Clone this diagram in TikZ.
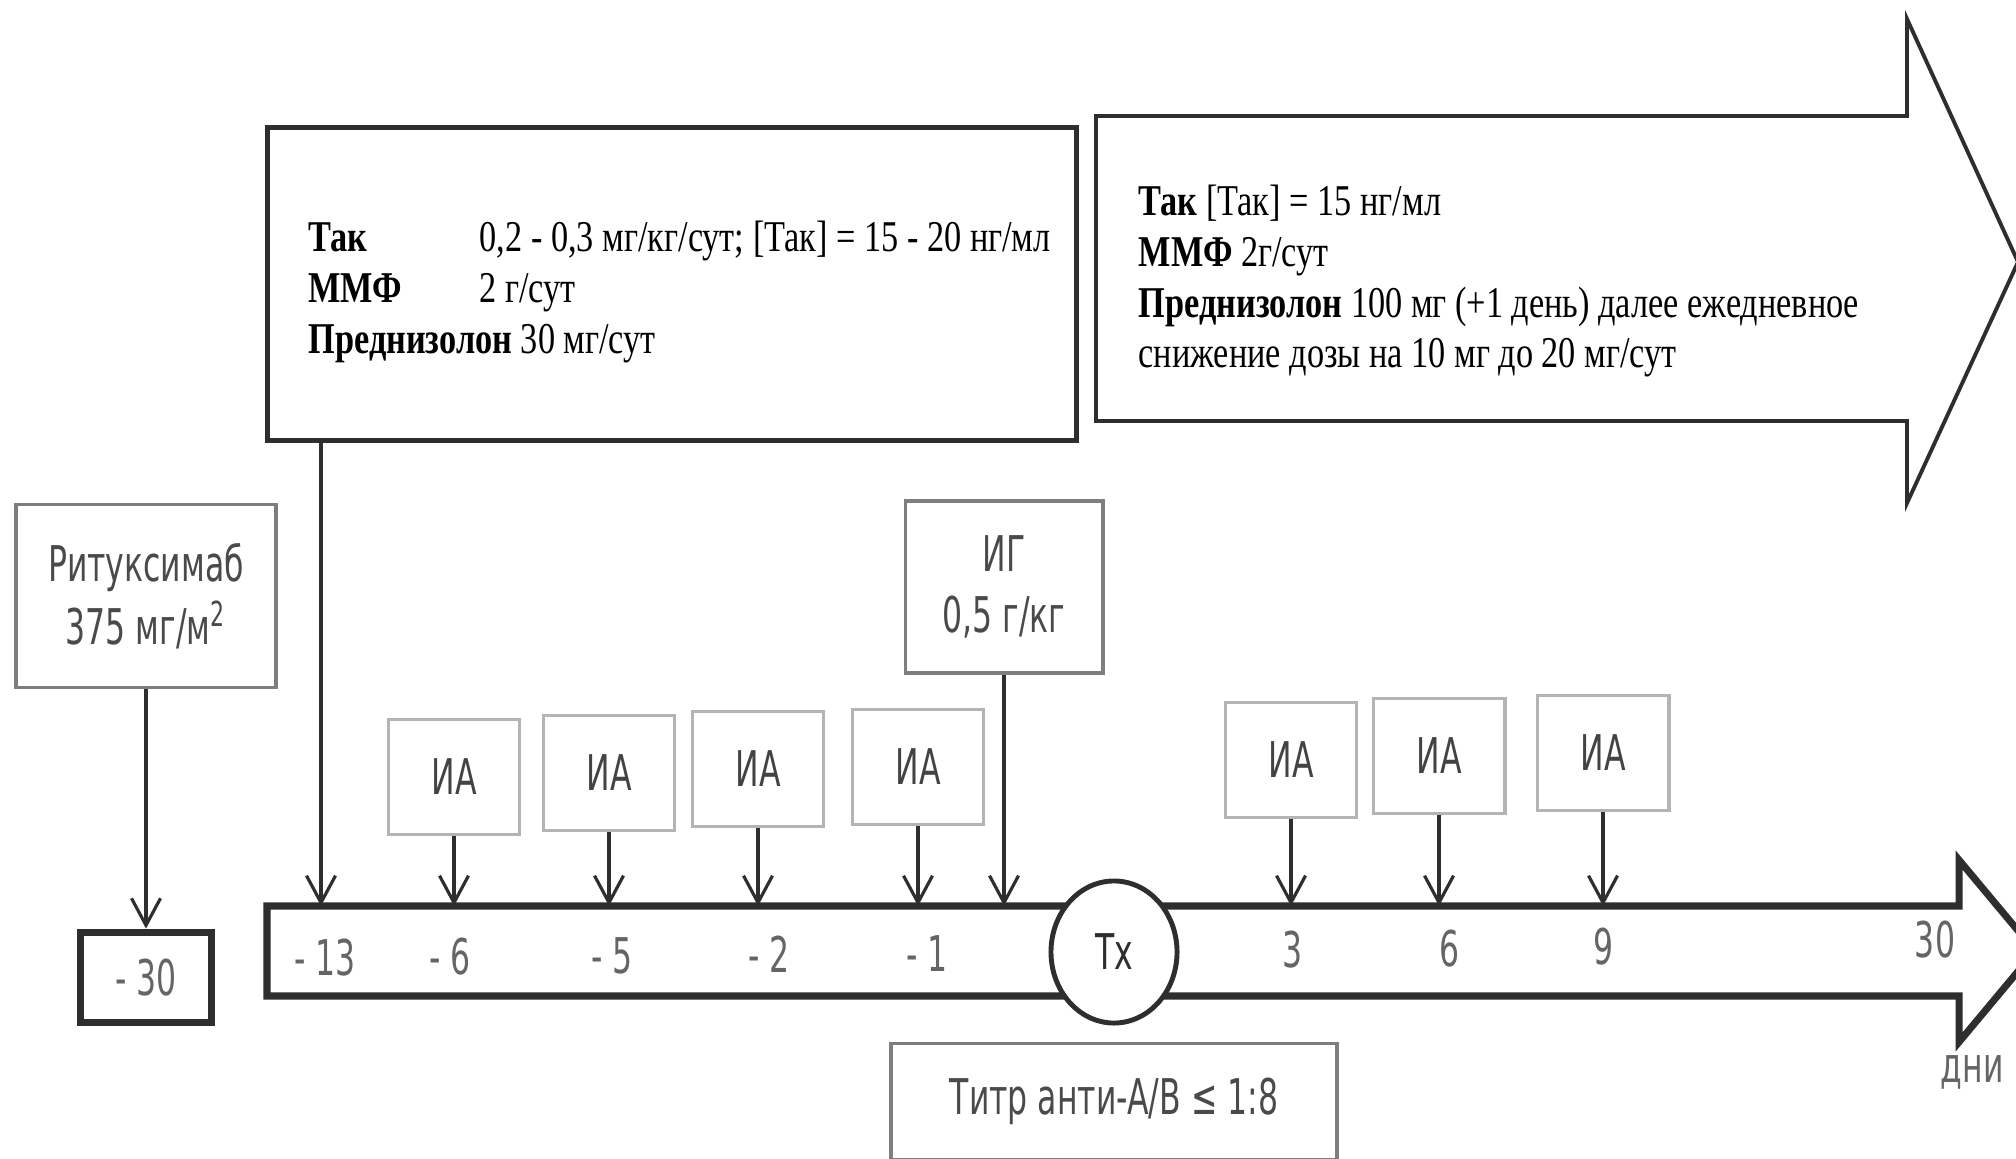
\documentclass[tikz,border=0pt]{standalone}
\usepackage{fontspec}
\setmainfont{Liberation Serif}[FakeStretch=0.78]
\newfontfamily\scanfont{DejaVu Sans}[FakeStretch=0.64]
\usepackage{tikz}
\usetikzlibrary{positioning, arrows.meta, shapes.geometric}
\definecolor{ink}{HTML}{2E2E2E}
\definecolor{pale}{HTML}{B4B4B4}
\definecolor{mid}{HTML}{7E7E7E}
\definecolor{txt}{HTML}{4A4A4A}
\tikzset{ia node/.style={rectangle, draw=pale, line width=1.1pt, minimum width=1.31cm, minimum height=1.15cm, inner sep=0pt, text=ink!90, font=\scanfont\fontsize{14}{16}\selectfont},
  info node/.style={rectangle, draw=mid, line width=1.1pt, inner sep=0pt, align=center, text=txt, font=\scanfont\fontsize{14}{18}\selectfont},
  day node/.style={text=txt!85, font=\scanfont\fontsize{14}{16}\selectfont},
  dose text/.style={anchor=west, align=left, inner sep=0pt, font=\fontsize{12.5}{14.5}\selectfont},
  conn/.style={draw=ink, line width=0.9pt, -{Straight Barb[length=0.27cm, width=0.29cm]}},}

\begin{document}
\begin{tikzpicture}[x=0.01cm, y=0.01cm]
        \useasboundingbox (0,0) rectangle (2016,-1158);
        % Long arrow after Tx
        \draw[ink, line width=1.1pt] (1096,-116) -- (1907,-116) -- (1907,-19) -- (2018,-262)
            -- (1907,-503) -- (1907,-421) -- (1096,-421) -- cycle;
        \node[dose text] (regimen2) at (1138,-281) {\textbf{Так} [Так] = 15 нг/мл\\
            \textbf{ММФ} 2г/сут\\
            \textbf{Преднизолон} 100 мг (+1 день) далее ежедневное\\
            снижение дозы на 10 мг до 20 мг/сут};
        % Regimen before Tx
        \node[rectangle, draw=ink, line width=1.4pt, minimum width=8.09cm, minimum height=3.12cm] (regimen1) at (672,-284) {};
        \node[dose text] (regimen1 text) [right = 0.43cm of regimen1.west, yshift=-0.08cm] {\makebox[1.71cm][l]{\textbf{Так}}0,2 - 0,3 мг/кг/сут; [Так] = 15 - 20 нг/мл\\
            \makebox[1.71cm][l]{\textbf{ММФ}}2 г/сут\\
            \textbf{Преднизолон} 30 мг/сут};
        % Day axis
        \draw[ink, line width=2pt, fill=white] (267,-906) -- (1959,-906) -- (1959,-860) -- (2035,-951)
            -- (1959,-1042) -- (1959,-996) -- (267,-996) -- cycle;
        \coordinate (axis) at (0,-906);
        \coordinate (d13) at (321,-906);
        \node[ellipse, draw=ink, line width=1.4pt, fill=white, minimum width=1.26cm, minimum height=1.42cm, day node, text=ink] (tx) at (1114,-952) {Тх};
        \node[day node] (l13) at (325,-958) {- 13};
        \node[day node] (l6) at (450,-957) {- 6};
        \node[day node] (l5) at (612,-956) {- 5};
        \node[day node] (l2) at (769,-954) {- 2};
        \node[day node] (l1) at (927,-954) {- 1};
        \node[day node] (p3) at (1292,-950) {3};
        \node[day node] (p6) at (1449,-949) {6};
        \node[day node] (p9) at (1603,-947) {9};
        \node[day node] (p30) at (1935,-940) {30};
        \node[day node, anchor=east] (days) at (2016,-1072) {дни};
        % Rituximab
        \node[info node, minimum width=2.6cm, minimum height=1.83cm] (ritux) at (146,-596) {Ритуксимаб\\375 мг/м\textsuperscript{2}};
        \node[rectangle, draw=ink, line width=2pt, minimum width=1.31cm, minimum height=0.9cm, day node] (d30) [below = 2.39cm of ritux] {- 30};
        % Immunoadsorption and IG
        \node[ia node] (ia1) at (454,-777) {ИА};
        \node[ia node] (ia2) at (609,-773) {ИА};
        \node[ia node] (ia3) at (758,-769) {ИА};
        \node[ia node] (ia4) at (918,-767) {ИА};
        \node[ia node] (ia5) at (1291,-760) {ИА};
        \node[ia node] (ia6) at (1439,-756) {ИА};
        \node[ia node] (ia7) at (1603,-753) {ИА};
        \node[info node, minimum width=1.97cm, minimum height=1.72cm, font=\scanfont\fontsize{14}{17.5}\selectfont] (ig) at (1004,-587) {ИГ\\0,5 г/кг};
        \node[info node, minimum width=4.45cm, minimum height=1.16cm] (titr) [below = 0.16cm of tx] {Титр анти-A/B ≤ 1:8};
        % Arrows
        \draw[conn] (regimen1.south -| d13) -- (d13);
        \path[conn]
        (ritux) edge (d30)
        (ia1) edge (ia1 |- axis)
        (ia2) edge (ia2 |- axis)
        (ia3) edge (ia3 |- axis)
        (ia4) edge (ia4 |- axis)
        (ig) edge (ig |- axis)
        (ia5) edge (ia5 |- axis)
        (ia6) edge (ia6 |- axis)
        (ia7) edge (ia7 |- axis);
    \end{tikzpicture}
\end{document}
